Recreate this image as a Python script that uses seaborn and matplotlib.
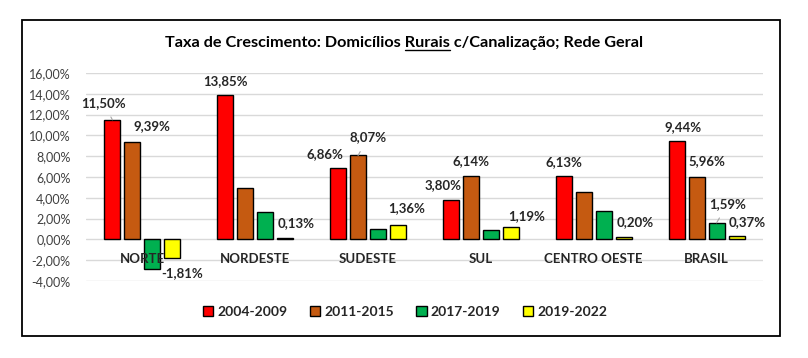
import pandas as pd
import matplotlib.pyplot as plt
import seaborn as sns
from matplotlib.patches import Patch, Rectangle
from matplotlib.lines import Line2D

# Dados (taxa de crescimento, %)
regioes = ['NORTE', 'NORDESTE', 'SUDESTE', 'SUL', 'CENTRO OESTE', 'BRASIL']
periodos = ['2004-2009', '2011-2015', '2017-2019', '2019-2022']
v_2004_2009 = [11.50, 13.85, 6.86, 3.80, 6.13, 9.44]
v_2011_2015 = [9.39, 4.92, 8.07, 6.14, 4.53, 5.96]
v_2017_2019 = [-2.80, 2.60, 1.03, 0.93, 2.77, 1.59]
v_2019_2022 = [-1.81, 0.13, 1.36, 1.19, 0.20, 0.37]
rotulos_y = ['-4,00%', '-2,00%', '0,00%', '2,00%', '4,00%', '6,00%', '8,00%',
             '10,00%', '12,00%', '14,00%', '16,00%']

cores = ['#FF0000', '#C55A11', '#00B050', '#FFFF00']

# posição dos rótulos de dados (deslocamento em pixels, linha guia)
pos_rotulos = {
    ('NORTE', '2004-2009'): (-9, 17, True),
    ('NORTE', '2011-2015'): (20, 16, False),
    ('NORTE', '2019-2022'): (10, -15, False),
    ('NORDESTE', '2004-2009'): (0, 14, False),
    ('NORDESTE', '2019-2022'): (11, 15, False),
    ('SUDESTE', '2004-2009'): (-13, 14, False),
    ('SUDESTE', '2011-2015'): (10, 18, True),
    ('SUDESTE', '2019-2022'): (8, 17, False),
    ('SUL', '2004-2009'): (-8, 15, False),
    ('SUL', '2011-2015'): (0, 14, False),
    ('SUL', '2019-2022'): (16, 11, False),
    ('CENTRO OESTE', '2004-2009'): (0, 14, False),
    ('CENTRO OESTE', '2019-2022'): (11, 15, False),
    ('BRASIL', '2004-2009'): (7, 14, False),
    ('BRASIL', '2011-2015'): (10, 16, False),
    ('BRASIL', '2017-2019'): (11, 19, True),
    ('BRASIL', '2019-2022'): (11, 13, False),
}

series = [v_2004_2009, v_2011_2015, v_2017_2019, v_2019_2022]
linhas = []
for periodo, valores in zip(periodos, series):
    for reg, v in zip(regioes, valores):
        linhas.append({'Regiao': reg, 'Periodo': periodo, 'Taxa': v})
df = pd.DataFrame(linhas)

sns.set_theme(style="white")
plt.rcParams['font.family'] = ['Lato', 'DejaVu Sans']

fig = plt.figure(figsize=(8.08, 3.58), dpi=100)
ax = fig.add_axes([86 / 808, 77 / 358, 677 / 808, 208 / 358])

sns.barplot(
    data=df, x='Regiao', y='Taxa', hue='Periodo',
    order=regioes, hue_order=periodos, palette=cores, saturation=1,
    edgecolor='black', linewidth=1, width=0.71, gap=0.2,
    errorbar=None, legend=False, ax=ax, zorder=2
)

ax.set_xlim(-0.5, len(regioes) - 0.5)
ax.set_ylim(-4, 16)
ax.set_yticks(range(-4, 17, 2))
ax.set_yticklabels(rotulos_y, fontsize=9, color='#404040')
ax.yaxis.grid(True, color='#D9D9D9', linewidth=1, zorder=0)
ax.set_axisbelow(True)
ax.tick_params(length=0, pad=11)
ax.set_xticks([])
ax.set_xlabel('')
ax.set_ylabel('')
for s in ax.spines.values():
    s.set_visible(False)

# nomes das regiões junto ao eixo zero
for i, reg in enumerate(regioes):
    ax.text(i, -1.9, reg, ha='center', va='center', fontsize=9.5,
            fontweight='bold', color='#262626', zorder=5)

# rótulos de dados
for periodo, cont in zip(periodos, ax.containers):
    for reg, barra in zip(regioes, cont):
        chave = (reg, periodo)
        if chave not in pos_rotulos:
            continue
        dx, dy, guia = pos_rotulos[chave]
        v = barra.get_height()
        xb = barra.get_x() + barra.get_width() / 2
        txt = f"{v:.2f}%".replace('.', ',')
        kw = {}
        if guia:
            kw['arrowprops'] = dict(arrowstyle='-', color='#A6A6A6', lw=0.8,
                                    shrinkA=4, shrinkB=0)
        ax.annotate(txt, xy=(xb, v), xytext=(dx, dy), textcoords='offset pixels',
                    ha='center', va='center', fontsize=9.5, fontweight='bold',
                    color='#262626', zorder=6, **kw)

# título com "Rurais" sublinhado
titulo = 'Taxa de Crescimento: Domicílios Rurais c/Canalização; Rede Geral'
ty = 1 - 47 / 358
t = fig.text(0.5, ty, titulo, ha='center', va='baseline', fontsize=11.7,
             fontweight='bold', color='black')
fig.canvas.draw()
r = fig.canvas.get_renderer()
bb = t.get_window_extent(r)


def largura(s):
    tt = fig.text(0, 0, s, fontsize=11.7, fontweight='bold')
    w = tt.get_window_extent(r).width
    tt.remove()
    return w


x_fim = bb.x0 + largura('Taxa de Crescimento: Domicílios Rurais')
x_ini = x_fim - largura('Rurais')
yb = ty * 358 - 3
fig.add_artist(Line2D([x_ini / 808, x_fim / 808], [yb / 358, yb / 358],
                      transform=fig.transFigure, color='black', lw=1))

# legenda
handles = [Patch(facecolor=c, edgecolor='black', linewidth=1) for c in cores]
fig.legend(handles, periodos, loc='center', bbox_to_anchor=(405 / 808, 1 - 312 / 358),
           ncol=4, frameon=False, handlelength=0.75, handleheight=0.75,
           handletextpad=0.3, columnspacing=1.6,
           prop={'weight': 'bold', 'size': 10})

# moldura do gráfico
fig.add_artist(Rectangle((22 / 808, 22 / 358), 758 / 808, 316 / 358,
                         transform=fig.transFigure, fill=False,
                         edgecolor='black', linewidth=1.3))

plt.savefig('out.png', dpi=100)
